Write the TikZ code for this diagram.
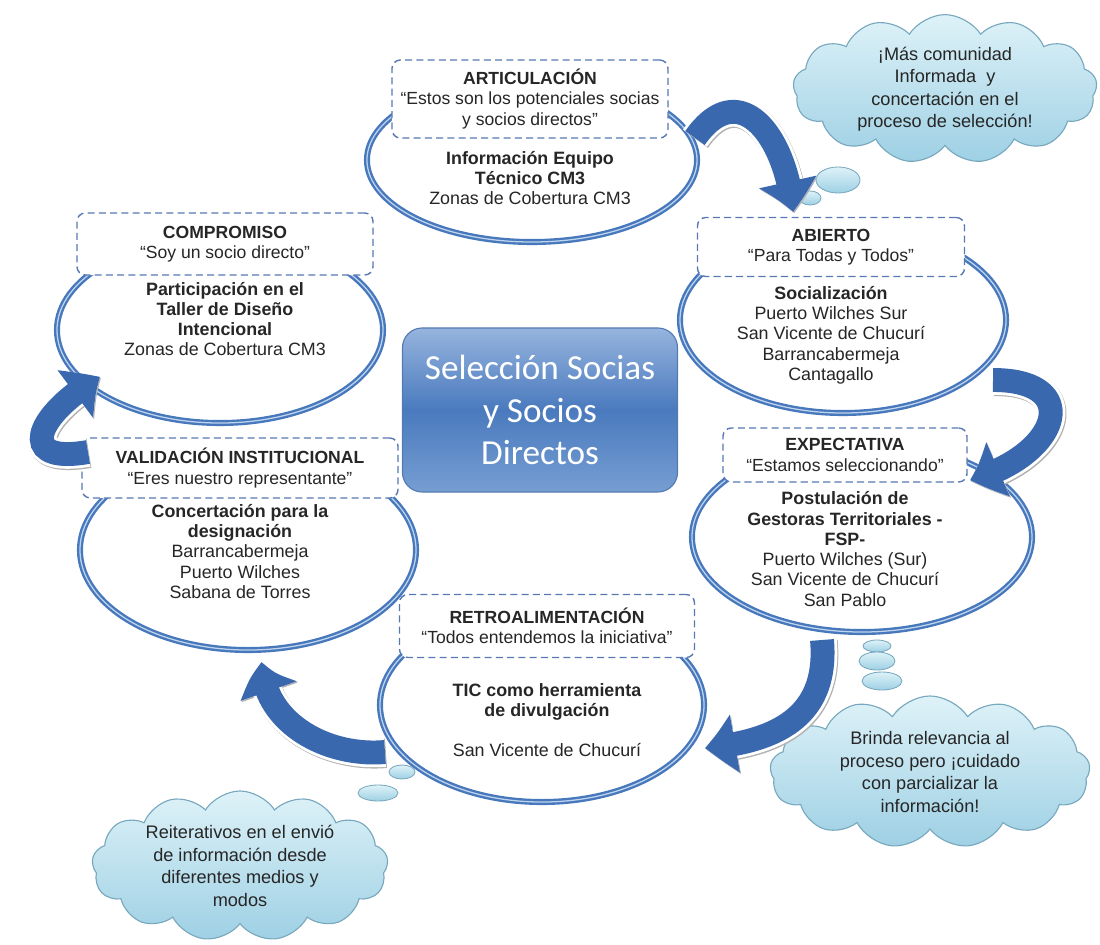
\documentclass[tikz,border=0pt]{standalone}
\usepackage{fontspec}
\setmainfont{Liberation Sans}
\newfontfamily\hubfont{Carlito}
\usetikzlibrary{arrows.meta,bending,positioning,shapes.geometric,shapes.symbols}
\definecolor{ink}{RGB}{38,38,38}
\definecolor{ring}{RGB}{72,120,188}
\definecolor{ringlight}{RGB}{190,212,238}
\definecolor{dashline}{RGB}{88,120,180}
\definecolor{flowblue}{RGB}{58,104,174}
\definecolor{hubtop}{RGB}{150,180,222}
\definecolor{hubmid}{RGB}{74,122,190}
\definecolor{hubbot}{RGB}{118,158,210}
\definecolor{hubline}{RGB}{84,122,178}
\definecolor{cloudtop}{RGB}{222,242,248}
\definecolor{cloudbot}{RGB}{158,208,228}
\definecolor{cloudline}{RGB}{120,168,190}
\tikzset{
  every picture/.style={x=0.025cm, y=0.025cm, color=ink},
  stage/.style={ellipse, draw=ring, line width=1.7pt, double=ringlight, double distance=0.9pt, fill=white, inner sep=0pt},
  tag/.style={draw=dashline, dash pattern=on 5pt off 3pt, line width=1pt, rounded corners=6pt, fill=white, align=center, inner sep=2pt, font=\fontsize{12.5}{14.5}\selectfont},
  body/.style={align=center, inner sep=0pt, font=\fontsize{12.7}{14.4}\selectfont},
  hub/.style={draw=hubline, line width=0.8pt, rounded corners=14pt, top color=hubtop, bottom color=hubbot, middle color=hubmid, text=white, align=center, font=\hubfont\fontsize{25}{30.2}\selectfont},
  thought/.style={cloud, cloud puffs=13, cloud puff arc=115, cloud ignores aspect, draw=cloudline, line width=0.8pt, top color=cloudtop, bottom color=cloudbot, align=center, inner sep=0pt, font=\fontsize{12.9}{16}\selectfont},
  puff/.style={ellipse, draw=cloudline, line width=0.6pt, top color=cloudtop, bottom color=cloudbot, inner sep=0pt},
  loopflow/.style={draw=flowblue, line width=17pt, -{Triangle[length=22pt,width=40pt,bend]},
    preaction={draw=black!30, line width=21pt, transform canvas={shift={(0.7pt,-0.9pt)}}},
    preaction={draw=white, line width=21pt}},
}
\begin{document}
\begin{tikzpicture}
  \useasboundingbox (0,0) rectangle (1100,-945);
  % thought clouds and their bubbles
  \node[thought, minimum width=7.6cm, minimum height=3.55cm] (c1) at (945,-89) {¡Más comunidad\\Informada~ y\\concertación en el\\proceso de selección!};
  \node[puff, minimum width=1.1cm, minimum height=0.65cm] (p11) at (838,-180) {};
  \node[puff, minimum width=0.55cm, minimum height=0.35cm] (p12) at (810,-198) {};
  \node[thought, minimum width=8cm, minimum height=3.8cm] (c2) at (930,-772) {Brinda relevancia al\\proceso pero ¡cuidado\\con parcializar la\\información!};
  \node[puff, minimum width=0.7cm, minimum height=0.3cm] (p21) at (877,-646) {};
  \node[puff, minimum width=0.9cm, minimum height=0.45cm] (p22) at (877,-661) {};
  \node[puff, minimum width=1cm, minimum height=0.45cm] (p23) at (882,-681) {};
  \node[thought, minimum width=7.4cm, minimum height=3.75cm] (c3) at (240,-866) {Reiterativos en el envió\\de información desde\\diferentes medios y\\modos};
  \node[puff, minimum width=0.65cm, minimum height=0.35cm] (p31) at (402,-772) {};
  \node[puff, minimum width=1cm, minimum height=0.4cm] (p32) at (378,-793) {};

  % the six stages
  \node[stage, minimum width=8.25cm, minimum height=4.1cm] (s1) at (532,-160) {};
  \node[stage, minimum width=8.15cm, minimum height=4.65cm] (s2) at (843,-320) {};
  \node[stage, minimum width=8.5cm, minimum height=4.75cm] (s3) at (862,-537) {};
  \node[stage, minimum width=8.1cm, minimum height=4.85cm] (s4) at (542,-705) {};
  \node[stage, minimum width=8.15cm, minimum height=4.65cm] (s5) at (220,-330) {};
  \node[stage, minimum width=8.4cm, minimum height=5cm] (s6) at (248,-550) {};

  \node[tag, minimum width=6.9cm, minimum height=1.95cm] (t1) at (530,-99) {\textbf{ARTICULACIÓN}\\“Estos son los potenciales socias\\y socios directos”};
  \node[body, below=3mm of t1] (b1) {\textbf{Información Equipo}\\\textbf{Técnico CM3}\\Zonas de Cobertura CM3};

  \node[tag, minimum width=6.675cm, minimum height=1.475cm] (t2) at (831,-247) {\textbf{ABIERTO}\\“Para Todas y Todos”};
  \node[body, below=2.2mm of t2] (b2) {\textbf{Socialización}\\Puerto Wilches Sur\\San Vicente de Chucurí\\Barrancabermeja\\Cantagallo};

  \node[tag, minimum width=6.1cm, minimum height=1.35cm] (t3) at (845,-455) {\textbf{EXPECTATIVA}\\“Estamos seleccionando”};
  \node[body, below=2.2mm of t3] (b3) {\textbf{Postulación de}\\\textbf{Gestoras Territoriales -}\\\textbf{FSP-}\\Puerto Wilches (Sur)\\San Vicente de Chucurí\\San Pablo};

  \node[tag, minimum width=7.375cm, minimum height=1.575cm] (t4) at (547,-626) {\textbf{RETROALIMENTACIÓN}\\“Todos entendemos la iniciativa”};
  \node[body, below=6.2mm of t4] (b4) {\textbf{TIC como herramienta}\\\textbf{de divulgación}\\[5mm]San Vicente de Chucurí};

  \node[tag, minimum width=7.4cm, minimum height=1.55cm] (t5) at (225,-244) {\textbf{COMPROMISO}\\“Soy un socio directo”};
  \node[body, below=1.5mm of t5] (b5) {\textbf{Participación en el}\\\textbf{Taller de Diseño}\\\textbf{Intencional}\\Zonas de Cobertura CM3};

  \node[tag, minimum width=7.9cm, minimum height=1.5cm] (t6) at (240,-468) {\textbf{VALIDACIÓN INSTITUCIONAL}\\“Eres nuestro representante”};
  \node[body, below=1.3mm of t6] (b6) {\textbf{Concertación para la}\\\textbf{designación}\\Barrancabermeja\\Puerto Wilches\\Sabana de Torres};

  \node[hub, minimum width=6.875cm, minimum height=4.1cm] (hub) at (540,-410) {Selección Socias\\y Socios\\Directos};

  % curved arrows between the stages
  \coordinate (a1s) at (695,-138); \coordinate (a1e) at (793,-212);
  \coordinate (a2s) at (993,-380); \coordinate (a2e) at (970,-480);
  \coordinate (a3s) at (822,-640); \coordinate (a3e) at (705,-748);
  \coordinate (a4s) at (385,-752); \coordinate (a4e) at (262,-662);
  \coordinate (a5s) at (88,-452);  \coordinate (a5e) at (100,-377);
  \draw[loopflow] (a1s) to[out=55,in=95,looseness=1.6] (a1e);
  \draw[loopflow] (a2s) to[out=0,in=15,looseness=2.3] (a2e);
  \draw[loopflow] (a3s) to[out=-85,in=5,looseness=1.2] (a3e);
  \draw[loopflow] (a4s) to[out=185,in=-90] (a4e);
  \draw[loopflow] (a5s) to[out=190,in=210,looseness=2.5] (a5e);
\end{tikzpicture}
\end{document}
